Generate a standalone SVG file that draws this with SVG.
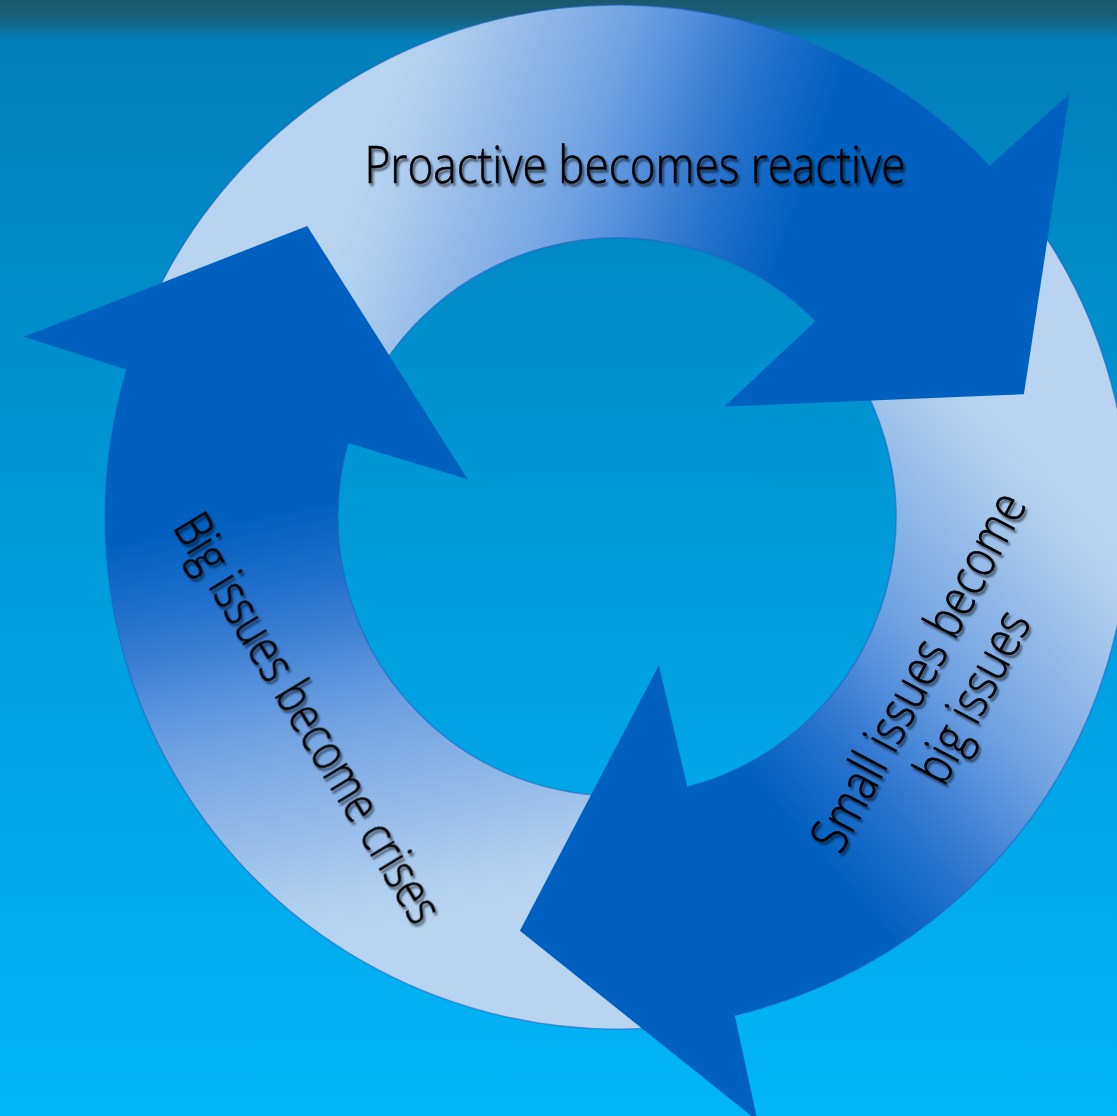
<svg xmlns="http://www.w3.org/2000/svg" width="1117" height="1116" viewBox="0 0 1117 1116">
  <defs>
    <linearGradient id="bg" x1="0" y1="0" x2="0" y2="1">
      <stop offset="0" stop-color="#1b5870"/>
      <stop offset="0.012" stop-color="#195c76"/>
      <stop offset="0.022" stop-color="#116a8e"/>
      <stop offset="0.036" stop-color="#027fb8"/>
      <stop offset="0.2" stop-color="#0088c6"/>
      <stop offset="0.45" stop-color="#0098d8"/>
      <stop offset="0.72" stop-color="#00a7e9"/>
      <stop offset="1" stop-color="#00b6f8"/>
    </linearGradient>
    <linearGradient id="shaftGrad" gradientUnits="userSpaceOnUse" x1="370" y1="110" x2="900" y2="290">
      <stop offset="0" stop-color="#b8d4f0"/>
      <stop offset="0.08" stop-color="#b0cfef"/>
      <stop offset="0.4" stop-color="#6fa1e1"/>
      <stop offset="0.62" stop-color="#2a73cf"/>
      <stop offset="0.78" stop-color="#0060bf"/>
      <stop offset="1" stop-color="#0060bf"/>
    </linearGradient>
    <filter id="shadow" x="-10%" y="-10%" width="120%" height="130%">
      <feGaussianBlur in="SourceAlpha" stdDeviation="1.3"/>
      <feOffset dx="2" dy="2.5" result="b"/>
      <feFlood flood-color="#000" flood-opacity="0.55"/>
      <feComposite in2="b" operator="in" result="s"/>
      <feMerge><feMergeNode in="s"/><feMergeNode in="SourceGraphic"/></feMerge>
    </filter>
    <path id="shaftShape" d="M 126.6 369.9 A 512 512 0 0 1 989.6 165.9 L 815.6 321.1 A 279 279 0 0 0 348.0 442.9 Z"/>
    <path id="shaftEdge" d="M 126.6 369.9 A 512 512 0 0 1 989.6 165.9 M 815.6 321.1 A 279 279 0 0 0 348.0 442.9"/>
    <path id="headShape" d="M 970.7 146.8 L 989.6 165.9 L 1069.7 93.4 L 1023.9 394.2 L 724.4 406.6 L 815.6 321.1 L 805.1 311.0 Z"/>
  </defs>
  <style>
    .shaft { fill: url(#shaftGrad); }
    .edge { fill: none; stroke: #1e64c2; stroke-width: 1.4; stroke-opacity: 0.6; }
    .head { fill: #0060bf; }
    .label { font-family: "Open Sans", "Noto Sans", "DejaVu Sans", sans-serif; font-size: 52px; font-weight: 300; fill: #000; stroke: #000; stroke-width: 0.6; }
  </style>

  <rect x="0" y="0" width="1117" height="1116" fill="url(#bg)"/>

  <g id="node-proactive">
    <use href="#shaftShape" class="shaft"/>
    <use href="#shaftEdge" class="edge"/>
  </g>
  <g id="node-small-issues">
    <g transform="rotate(120 617 517)">
      <use href="#shaftShape" class="shaft"/>
      <use href="#shaftEdge" class="edge"/>
    </g>
  </g>
  <g id="node-big-issues">
    <g transform="rotate(240 617 517)">
      <use href="#shaftShape" class="shaft"/>
      <use href="#shaftEdge" class="edge"/>
    </g>
  </g>

  <g id="connectors">
    <use id="head-proactive" href="#headShape" class="head"/>
    <use id="head-small-issues" href="#headShape" class="head" transform="rotate(120 617 517)"/>
    <use id="head-big-issues" href="#headShape" class="head" transform="rotate(240 617 517)"/>
  </g>

  <g id="labels" filter="url(#shadow)">
    <text class="label" x="635" y="183" text-anchor="middle" textLength="541" lengthAdjust="spacingAndGlyphs">Proactive becomes reactive</text>
    <text class="label" transform="translate(293 727) rotate(58.8)" x="0" y="0" text-anchor="middle" textLength="468" lengthAdjust="spacingAndGlyphs">Big issues become crises</text>
    <text class="label" transform="translate(934 680) rotate(-62)" x="0" y="0" text-anchor="middle" textLength="398" lengthAdjust="spacingAndGlyphs">Small issues become</text>
    <text class="label" transform="translate(988 705) rotate(-62)" x="0" y="0" text-anchor="middle" textLength="187" lengthAdjust="spacingAndGlyphs">big issues</text>
  </g>
</svg>
